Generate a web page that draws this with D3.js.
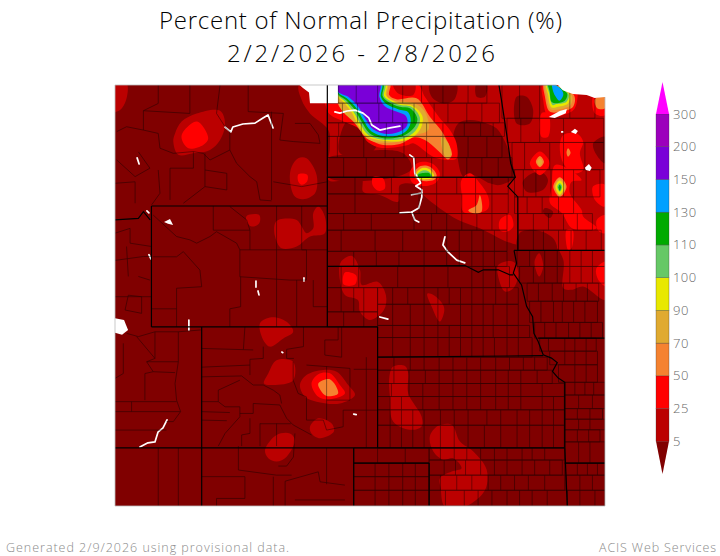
<!DOCTYPE html>
<html lang="en">
<head>
    <meta charset="UTF-8">
    <title>Percent of Normal Precipitation</title>
    <script src="https://d3js.org/d3.v7.min.js"></script>
    <style>
        html, body { margin: 0; background: #fff; }
        text { font-family: "Open Sans", "DejaVu Sans", sans-serif; font-weight: 300; }
    </style>
</head>
<body>
<script>
const titleLines = ["Percent of Normal Precipitation (%)", "2/2/2026 - 2/8/2026"];
const footerLeft = "Generated 2/9/2026 using provisional data.";
const footerRight = "ACIS Web Services";

// colour bar
const levels = [5, 25, 50, 70, 90, 100, 110, 130, 150, 200, 300];
const bandColors = ["#800000", "#bb0000", "#ff0000", "#f58230", "#e0aa30", "#e8e800", "#66c866", "#00aa00", "#00a0ff", "#7a00d8", "#9c00bc", "#ff00ff"];

// contour patches, painted in order: [percent of normal, [[lon, lat], ...]]
const contours = [
    // northern plains and upper midwest, 5-25 %
    [15, [[-105.14,49.05],[-105.07,48.5],[-104.74,48.06],[-104.01,47.51],[-103.95,46.96],[-104.01,45.86],[-102.69,45.91],[-102.62,45.47],[-101.96,45.36],[-101.23,45.14],[-101.16,45.69],[-100.5,45.69],[-100.23,45.36],[-99.57,44.92],[-98.84,44.54],[-97.98,44.26],[-97.05,43.87],[-96.47,43.71],[-95.72,43.66],[-95.06,43.71],[-94.66,43.22],[-94.66,42.28],[-94.33,42.23],[-93.87,42.34],[-92.9,41.9],[-92.9,49.05]]],
    // drier holes
    [0, [[-103.35,47.73],[-103.03,47.9],[-102.67,47.68],[-102.35,47.41],[-102.08,47.02],[-102.47,46.69],[-103.55,46.75]]],
    [0, [[-104.01,46.57],[-103.42,46.69],[-102.42,46.83],[-101.03,46.74],[-100.7,46.24],[-101.3,45.97],[-104.01,45.95]]],
    [0, [[-99.97,49.05],[-98.91,49.05],[-99.01,48.5],[-99.44,48.39],[-99.9,48.61]]],
    [0, [[-98.84,47.73],[-98.38,47.84],[-97.71,47.73],[-97.32,47.57],[-96.92,47.02],[-96.65,46.3],[-96.59,45.97],[-97.18,45.69],[-97.58,45.75],[-98.24,46.02],[-98.64,45.97],[-98.91,46.8],[-99.04,47.29]]],
    [0, [[-96.52,48.61],[-96.12,48.61],[-95.86,48.17],[-95.99,47.73],[-96.52,47.73]]],
    [0, [[-98.11,49.05],[-97.71,49.05],[-97.78,48.61],[-98.11,48.61]]],
    [0, [[-95.87,46.09],[-95.47,46.09],[-95.27,45.86],[-95.47,45.53],[-96.11,45.47],[-96.27,45.8]]],
    [0, [[-93.47,47.07],[-93,47.29],[-93,46.41],[-93.34,46.69]]],
    [0, [[-96.4,44.1],[-95.73,44.2],[-95.07,43.94],[-94.93,43.55],[-96.47,43.55]]],
    [0, [[-95.39,44.93],[-95.07,44.81],[-95.19,44.6],[-95.47,44.81]]],
    // western blobs
    [15, [[-112.6,49.05],[-112.04,49.05],[-112.06,48.5],[-112.3,48.17],[-112.6,48.12]]],
    [15, [[-109.85,47.79],[-109.25,48.06],[-108.32,48.15],[-108.12,47.73],[-108.32,47.18],[-108.72,46.85],[-109.38,46.74],[-109.98,46.69],[-110.18,47.13],[-110.11,47.4]]],
    [35, [[-109.23,47.79],[-108.79,47.24],[-108.99,47.02],[-109.58,46.91],[-109.85,47.24],[-109.78,47.46]]],
    [15, [[-105.21,46.58],[-104.88,46.58],[-104.48,46.03],[-104.54,45.42],[-105.01,45.22],[-105.34,45.31],[-105.54,45.86],[-105.47,46.3]]],
    [35, [[-105.2,46.05],[-104.85,46.03],[-104.85,45.82],[-105.07,45.7],[-105.2,45.8]]],
    [15, [[-107.26,44.67],[-106.76,44.7],[-106.76,44.43],[-107.06,44.32],[-107.26,44.48]]],
    [15, [[-106.13,44.43],[-105.94,44.56],[-105.27,44.54],[-105.07,44.32],[-104.88,44.1],[-104.61,44.26],[-104.61,44.76],[-104.41,44.98],[-104.15,44.65],[-104.15,44.1],[-104.74,43.99],[-105.27,43.66],[-105.87,43.6],[-106.13,43.99]]],
    [15, [[-106.73,41.12],[-106.27,41.32],[-105.67,41.17],[-105.41,40.84],[-105.8,40.62],[-106.33,40.35],[-106.6,40.57]]],
    [15, [[-106.07,39.9],[-105.41,39.85],[-105.41,39.24],[-106.2,39.08],[-106.57,39.13],[-106.4,39.46]]],
    [15, [[-105.14,39.08],[-104.88,39.41],[-104.21,39.58],[-103.68,39.52],[-103.22,39.08],[-102.95,38.75],[-103.55,38.47],[-104.48,38.53],[-104.94,38.69]]],
    [35, [[-104.68,39.13],[-104.41,39.44],[-103.95,39.47],[-103.55,39.08],[-103.35,38.8],[-103.95,38.61],[-104.41,38.69]]],
    [60, [[-104.41,39.13],[-103.95,39.27],[-103.62,38.8],[-104.08,38.72],[-104.32,38.91]]],
    [15, [[-104.74,37.7],[-104.41,37.98],[-103.88,37.81],[-103.79,37.54],[-104.34,37.32],[-104.68,37.48]]],
    [15, [[-106.53,36.93],[-106.07,37.43],[-105.54,37.48],[-105.34,37.26],[-105.67,36.71],[-106.07,36.55],[-106.4,36.66]]],
    // central plains
    [15, [[-103.51,43.15],[-103.07,43.35],[-102.75,42.88],[-102.68,42.39],[-102.04,42.49],[-101.72,42.06],[-101.8,41.56],[-102.36,41.23],[-102.75,41.5],[-102.83,41.89],[-103.35,42.06],[-103.55,42.55]]],
    [35, [[-103.35,42.8],[-102.9,42.7],[-102.95,42.4],[-103.4,42.4]]],
    [15, [[-100.07,42.1],[-99.83,42.06],[-99.44,41.73],[-99.4,41.51],[-99.57,41.18],[-99.9,41.68]]],
    [15, [[-101.58,39.36],[-101.43,39.69],[-100.96,39.71],[-100.83,39.47],[-100.83,38.81],[-100.3,38.04],[-100.3,37.71],[-100.76,37.6],[-101.43,37.87],[-101.56,38.7]]],
    [15, [[-99.97,37.38],[-99.64,37.73],[-99.1,37.77],[-98.77,37.21],[-98.24,36.88],[-97.71,36.28],[-97.78,35.6],[-98.57,35.06],[-99.37,35.06],[-99.54,35.67],[-99.57,36],[-99.1,36.22],[-98.71,36.33],[-99.04,36.66],[-99.44,36.61],[-99.83,36.88]]],
    [15, [[-97.25,43.05],[-96.65,43.16],[-96.45,42.78],[-96.65,42.28],[-96.98,42.17],[-97.25,42.67]]],
    [15, [[-95.79,43.22],[-95.62,43.44],[-95.46,43],[-95.62,42.67],[-95.79,43]]],
    // north dakota maximum
    [35, [[-104.02,48.1],[-103.35,47.78],[-102.83,47.58],[-102.43,47.11],[-101.88,46.92],[-100.84,47.02],[-100.63,47.07],[-99.84,46.63],[-99.24,46.52],[-98.91,46.57],[-98.91,47.07],[-99.17,47.51],[-99.57,47.9],[-99.9,48.28],[-100.17,48.61],[-100.5,49.05],[-104.01,49.05]]],
    [15, [[-101.43,49.05],[-100.57,49.05],[-100.63,48.67],[-101.23,48.72]]],
    [60, [[-101.56,49.05],[-101.59,48.67],[-101.3,48.53],[-100.5,48.56],[-99.97,47.95],[-99.44,47.4],[-99.09,46.69],[-99.24,46.54],[-99.64,46.83],[-100.17,47.18],[-100.57,47.27],[-101.16,47.05],[-101.83,47.02],[-102.36,47.2],[-102.89,47.73],[-103.42,48.12],[-103.62,48.37],[-103.62,49.05]]],
    [80, [[-101.67,49.05],[-101.67,48.61],[-101.36,48.48],[-100.57,48.39],[-100.17,48.12],[-100.03,47.51],[-100.5,47.35],[-101.16,47.13],[-101.83,47.09],[-102.42,47.2],[-102.95,47.73],[-103.48,48.17],[-103.62,48.5],[-103.62,49.05]]],
    [80, [[-99.5,47.29],[-99.24,47.07],[-99.15,46.65],[-99.31,46.61],[-99.5,46.96]]],
    [95, [[-101.7,49.05],[-101.72,48.67],[-101.49,48.5],[-101.1,48.37],[-100.63,48.3],[-100.26,47.95],[-100.37,47.51],[-100.83,47.2],[-101.63,47.14],[-102.49,47.31],[-102.82,47.68],[-103.08,48.09],[-103.39,48.42],[-103.62,48.61],[-103.62,49.05]]],
    [105, [[-101.76,49.05],[-101.79,48.64],[-101.56,48.48],[-101.14,48.34],[-100.7,48.28],[-100.37,47.93],[-100.47,47.57],[-100.9,47.27],[-101.63,47.18],[-102.42,47.35],[-102.75,47.73],[-103.02,48.12],[-103.35,48.46],[-103.62,48.66],[-103.62,49.05]]],
    [120, [[-101.83,49.05],[-101.85,48.64],[-101.63,48.45],[-101.16,48.28],[-100.76,48.23],[-100.47,47.9],[-100.57,47.62],[-100.96,47.35],[-101.63,47.23],[-102.36,47.4],[-102.69,47.79],[-102.95,48.17],[-103.31,48.5],[-103.62,48.7],[-103.62,49.05]]],
    [140, [[-101.89,49.05],[-101.92,48.61],[-101.7,48.37],[-101.23,48.2],[-100.83,48.1],[-100.74,47.73],[-101,47.42],[-101.63,47.29],[-102.29,47.46],[-102.62,47.84],[-102.89,48.23],[-103.28,48.56],[-103.62,48.75],[-103.62,49.05]]],
    [175, [[-101.96,49.05],[-101.98,48.61],[-101.76,48.3],[-101.3,48.12],[-100.92,47.97],[-100.87,47.68],[-101.1,47.49],[-101.63,47.38],[-102.22,47.53],[-102.55,47.9],[-102.82,48.28],[-103.22,48.61],[-103.62,48.78],[-103.62,49.05]]],
    // south dakota
    [35, [[-100.76,46.13],[-100.43,46.43],[-99.9,46.41],[-99.57,46.08],[-99.73,45.77],[-100.3,45.66],[-100.7,45.8]]],
    [60, [[-100.6,46.08],[-100.34,46.32],[-99.97,46.3],[-99.7,46.02],[-99.81,45.86],[-100.5,45.88]]],
    [95, [[-100.53,46.06],[-100.3,46.25],[-100,46.22],[-99.8,45.99],[-99.94,45.9],[-100.47,45.92]]],
    [105, [[-100.47,46.04],[-100.26,46.17],[-100.03,46.15],[-99.88,45.97],[-100.43,45.95]]],
    [120, [[-100.43,46.04],[-99.99,46.08],[-99.94,45.96],[-100.43,45.95]]],
    [35, [[-102.22,45.97],[-101.83,45.91],[-101.76,45.58],[-102.02,45.5],[-102.25,45.69]]],
    [35, [[-98.71,45.86],[-98.38,46.08],[-97.98,45.75],[-97.65,45.31],[-97.65,44.92],[-98.11,44.76],[-98.64,44.81],[-98.71,45.42]]],
    [60, [[-98.44,44.85],[-98.11,45.03],[-97.98,45.36],[-97.91,44.81],[-98.24,44.76]]],
    [35, [[-97.18,44.54],[-96.78,44.7],[-96.65,44.32],[-96.91,44.15],[-97.18,44.2]]],
    // minnesota
    [35, [[-95,46.35],[-94.6,46.29],[-93.93,45.86],[-94.33,45.8],[-94.4,45.43],[-93.93,44.87],[-93.87,44.65],[-93.33,44.27],[-93.87,44.2],[-94.33,44.27],[-94.72,44.77],[-95.19,45.1],[-95.12,45.64]]],
    [35, [[-94.66,47.35],[-94.13,47.4],[-93.87,47.13],[-94,46.74],[-93.87,46.19],[-94.27,46.08],[-94.66,46.41],[-94.8,46.96]]],
    [60, [[-94.47,46.91],[-94.37,46.76],[-94.47,46.63],[-94.53,46.76]]],
    [35, [[-93.48,45.64],[-93,45.7],[-93,44.98],[-93.4,45.2]]],
    [35, [[-93.33,44.54],[-93,44.7],[-93,44.1],[-93.28,44.2]]],
    [35, [[-93.47,48.61],[-93,48.67],[-93,48],[-93.4,48.06]]],
    [60, [[-93.4,48.53],[-93,48.61],[-93,48.23],[-93.31,48.23]]],
    [35, [[-95.53,48.06],[-95.26,48.06],[-95.26,47.29],[-95.53,47.29]]],
    [35, [[-95.46,49.05],[-94.2,49.05],[-94.2,48.23],[-94.66,48.01],[-95.26,47.95],[-95.46,48.5]]],
    [60, [[-95.42,49.05],[-94.24,48.67],[-94.27,48.28],[-94.73,48.12],[-95.2,48.12],[-95.39,48.61]]],
    [80, [[-95.37,49.05],[-94.33,48.67],[-94.37,48.34],[-94.8,48.2],[-95.17,48.2],[-95.33,48.61]]],
    [95, [[-95.33,49.05],[-94.4,48.67],[-94.47,48.39],[-94.86,48.28],[-95.13,48.26],[-95.26,48.67]]],
    [105, [[-95.3,49.05],[-94.45,48.7],[-94.53,48.45],[-94.93,48.37],[-95.09,48.34],[-95.22,48.72]]],
    [120, [[-95.26,49.05],[-94.51,48.72],[-94.6,48.48],[-94.93,48.4],[-95.13,48.45],[-95.2,48.78]]],
    [140, [[-95.1,49.05],[-94.73,48.84],[-94.66,48.67],[-94.82,48.48],[-94.96,48.61],[-95.06,48.78]]],
    [35, [[-95.99,46.41],[-95.59,46.8],[-95.2,46.41],[-95.59,46.02]]],
    [60, [[-95.75,46.46],[-95.59,46.65],[-95.43,46.46],[-95.59,46.28]]],
    [80, [[-95.7,46.46],[-95.59,46.57],[-95.49,46.46],[-95.59,46.32]]],
    [60, [[-95.06,45.64],[-94.8,45.95],[-94.53,45.64],[-94.8,45.29]]],
    [80, [[-95,45.64],[-94.8,45.9],[-94.58,45.64],[-94.8,45.33]]],
    [95, [[-94.97,45.64],[-94.8,45.84],[-94.63,45.64],[-94.8,45.37]]],
    [105, [[-94.9,45.64],[-94.8,45.75],[-94.7,45.64],[-94.8,45.47]]],
    [120, [[-94.85,45.62],[-94.8,45.7],[-94.75,45.62],[-94.8,45.5]]],
    // iowa
    [35, [[-94.53,44.21],[-94.29,44.21],[-94.33,43.6],[-94.46,43.53]]],
    [35, [[-93.34,42.94],[-92.94,43.16],[-92.94,42.34],[-93.27,42.56]]]
];

// areas without data
const missingAreas = [
    [[-105.22,49.05],[-105.02,48.9],[-104.78,48.75],[-104.74,48.4],[-103.63,48.4],[-103.63,49.05]],
    [[-94.93,49.05],[-94.68,48.83],[-94.28,48.7],[-93.73,48.67],[-93.41,48.57],[-93,48.6],[-92.9,49.05]],
    [[-112.6,41.3],[-112.14,41.23],[-111.98,40.9],[-112.22,40.74],[-112.6,40.83]],
    [[-110.55,44.47],[-110.31,44.57],[-110.19,44.37],[-110.39,44.41]],
    [[-95.24,47.94],[-94.8,48.14],[-94.52,48.21],[-94.56,48.07],[-95,47.91]],
    [[-94.36,47.45],[-94.2,47.55],[-94.08,47.48],[-94.16,47.38]],
    [[-93.8,46.26],[-93.64,46.39],[-93.53,46.26],[-93.6,46.16],[-93.76,46.19]]
];
const reservoirs = [
    [[-103.75,48.11],[-103.55,48.07],[-103.27,48.14],[-102.95,48.17],[-102.63,48.07],[-102.4,47.91],[-102.28,47.68],[-101.96,47.51],[-101.56,47.58],[-101.16,47.64]],
    [[-108.12,47.61],[-107.89,47.45],[-107.81,47.61],[-107.41,47.71],[-106.93,47.74],[-106.61,47.91],[-106.41,48.01],[-106.33,47.84],[-106.21,47.58]],
    [[-100.77,46.69],[-100.61,46.59],[-100.57,46.09],[-100.33,45.76],[-100.53,45.66],[-100.29,45.53],[-100.29,45.3],[-100.41,44.93],[-100.69,44.8],[-101.16,44.77]],
    [[-100.69,44.8],[-100.57,44.54],[-100.41,44.47]],
    [[-100.7,45.37],[-100.29,45.43]],
    [[-99.37,43.98],[-99.45,43.71],[-99.25,43.48],[-98.9,43.21],[-98.58,43.12]],
    [[-110.43,37.93],[-110.59,37.66],[-110.79,37.52],[-110.91,37.2],[-111.19,37.17],[-111.51,37.03]],
    [[-111.62,46.59],[-111.54,46.39]],
    [[-111.23,44.84],[-111.15,44.77]],
    [[-111.15,43.39],[-111.07,43.25]],
    [[-101.96,41.33],[-101.64,41.26]],
    [[-109.56,41.23],[-109.56,40.9]],
    [[-106.89,42.52],[-106.89,42.32]],
    [[-106.81,42.19],[-106.77,42.06]],
    [[-104.98,42.62],[-104.98,42.52]],
    [[-105.86,40.17],[-105.82,40.15]],
    [[-103,38.12],[-102.9,38.1]],
    [[-94.72,47.45],[-94.68,47.45]]
];

// state boundaries
const stateLines = [
    [[-111.05,45],[-104.05,45]],
    [[-111.05,45],[-111.05,41]],
    [[-104.05,49],[-104.05,41]],
    [[-111.05,41],[-102.05,41]],
    [[-109.05,41],[-109.05,35]],
    [[-112.5,44.54],[-111.57,44.59],[-111.37,44.81],[-111.1,44.54]],
    [[-102.05,41],[-102.05,37]],
    [[-102.05,40],[-95.46,40.05]],
    [[-112.5,37],[-94.62,37]],
    [[-103,37],[-103,35]],
    [[-103,36.5],[-100,36.5]],
    [[-100,36.5],[-100,35]],
    [[-104.05,45.95],[-96.55,45.95]],
    [[-104.05,43],[-98.57,43.03],[-98.04,42.81],[-97.84,42.89],[-97.25,42.89],[-96.78,42.72],[-96.65,42.72]],
    [[-97.22,49],[-97.12,48.5],[-96.9,47.3],[-96.75,46.4],[-96.57,45.95],[-96.87,45.65],[-96.47,45.3],[-96.47,43.53]],
    [[-96.62,43.53],[-93,43.53]],
    [[-96.62,43.53],[-96.52,43.11],[-96.65,42.78],[-96.32,42.39],[-96.12,41.68],[-95.88,41.34],[-95.83,40.79],[-95.66,40.52],[-95.46,40.08],[-95.13,39.97],[-94.9,39.82],[-95.09,39.53],[-94.86,39.31],[-94.6,39.17],[-94.6,37]],
    [[-95.66,40.63],[-93,40.63]],
    [[-94.6,36.5],[-93,36.5]],
    [[-94.6,37],[-94.5,35.08]]
];

// county grid sections: [north lat, south lat, [lon breaks]]
const countySections = [
    [49,48.4,[-104.05,-103.6,-102.9,-102.05,-101.05,-100.3,-99.45,-98.45,-97.7]],
    [48.4,47.75,[-104.05,-103.45,-102.85,-102,-101.45,-100.6,-99.8,-99.25,-98.5,-97.9,-97.2]],
    [47.75,47.3,[-104.05,-103.6,-102.7,-101.7,-101.05,-100.1,-99.45,-98.6,-97.95,-97.45,-97]],
    [47.3,46.6,[-104.05,-103.65,-102.6,-101.75,-101,-100.1,-99.45,-98.45,-97.7,-97.1]],
    [46.6,45.95,[-104.05,-103.4,-102.5,-101.4,-100.55,-99.9,-99.45,-98.5,-97.9,-97.25,-96.7]],
    [45.95,45.4,[-104.05,-102.95,-101.5,-100.3,-99.7,-98.9,-98.15,-97.5,-96.85]],
    [45.4,44.75,[-104.05,-102.95,-101.2,-100.4,-99.7,-98.7,-98.15,-97.5,-96.85]],
    [44.75,44.2,[-104.05,-103.4,-102.3,-100.6,-99.9,-99.3,-98.7,-98.1,-97.5,-96.9]],
    [44.2,43.5,[-104.05,-103.5,-102.15,-101.05,-100.2,-99.3,-98.8,-98.3,-97.85,-97.4,-96.9]],
    [43.5,43,[-104.05,-103,-102.1,-101.2,-100.2,-99.3,-98.8,-98.3,-97.85,-97.4,-96.9]],
    [43,42.3,[-104.05,-103.5,-102.8,-101.25,-100.2,-99.25,-98.3,-97.85,-97.35,-96.8]],
    [42.3,41.75,[-102.05,-101.45,-100.85,-100.2,-99.65,-99.2,-98.75,-98.3,-97.85,-97.35,-96.9,-96.45]],
    [41.75,41.05,[-102.05,-101.45,-100.75,-100.2,-99.65,-98.75,-98.3,-97.85,-97.45,-96.9,-96.45]],
    [41.05,40.65,[-102.05,-101.45,-100.75,-100.2,-99.65,-99.2,-98.75,-98.3,-97.85,-97.45,-96.9,-96.45,-96]],
    [40.65,40,[-102.05,-101.45,-100.75,-100.2,-99.65,-99.2,-98.75,-98.3,-97.85,-97.4,-96.9,-96.45,-95.9]],
    [42.3,41.5,[-104.05,-103.5,-103,-102.6,-102.05]],
    [41.5,41,[-104.05,-103.4,-102.6,-102.05]],
    [40,39.57,[-102.05,-101.4,-100.75,-100.2,-99.6,-99.05,-98.5,-97.95,-97.35,-96.8,-96.25,-95.8,-95.3]],
    [39.57,39.13,[-102.05,-101.4,-100.8,-100.15,-99.6,-99.05,-98.5,-97.95,-97.35,-96.85,-96.35,-95.7,-95.1]],
    [39.13,38.7,[-102.05,-101.5,-100.8,-100.25,-99.6,-99.05,-98.5,-97.95,-97.35,-96.85,-96.35,-95.5,-94.62]],
    [38.7,38.26,[-102.05,-101.55,-101.1,-100.25,-99.6,-99.05,-98.5,-97.95,-97.35,-96.85,-96.35,-95.5,-95.05,-94.62]],
    [38.26,37.75,[-102.05,-101.55,-101.1,-100.65,-100.2,-99.55,-99,-98.45,-97.7,-97.15,-96.5,-96,-95.5,-95.05,-94.62]],
    [37.75,37,[-102.05,-101.55,-101.1,-100.65,-100.2,-99.55,-99,-98.45,-97.8,-97.15,-96.5,-96,-95.5,-95.05,-94.62]],
    [43.53,43,[-96.5,-96,-95.4,-94.9,-94.4,-93.95,-93.5,-93]],
    [43,42.45,[-96.4,-95.85,-95.4,-94.9,-94.4,-93.95,-93.5,-93]],
    [42.45,41.85,[-96.1,-95.65,-95.1,-94.65,-94.15,-93.7,-93.25]],
    [41.85,41.15,[-96,-95.55,-95.05,-94.7,-94.25,-93.8,-93.3]],
    [41.15,40.63,[-95.8,-95.4,-94.95,-94.45,-94,-93.55,-93.1]],
    [44.2,43.53,[-96.45,-95.85,-95.45,-94.85,-94.35,-93.75,-93.15]],
    [44.75,44.2,[-96.45,-95.85,-95.25,-94.65,-94.1,-93.5]],
    [45.3,44.75,[-96.6,-96.1,-95.5,-94.85,-94.25]],
    [46.2,45.3,[-96.6,-96.25,-95.75,-95.15,-94.65,-94.25,-93.75,-93.2]],
    [47.1,46.2,[-96.7,-96.2,-95.2,-94.65,-93.8,-93.05]],
    [47.9,47.1,[-96.9,-96.35,-95.6,-94.65,-93.05]],
    [49,47.9,[-97.1,-96.4,-95.6,-94.4,-93.4]],
    [40.63,40.2,[-95.6,-95.25,-94.6,-94.2,-93.75,-93.35]],
    [40.2,39.75,[-95.2,-94.6,-94.2,-93.75,-93.3]],
    [39.75,39.17,[-94.85,-94.2,-93.75,-93.3]],
    [39.17,38.75,[-94.6,-94.2,-93.8,-93.45,-93]],
    [38.75,38.3,[-94.6,-94.05,-93.5,-93]],
    [38.3,37.95,[-94.6,-94.1,-93.6,-93.1]],
    [37.95,37.6,[-94.6,-94.05,-93.6,-93]],
    [37.6,37.2,[-94.6,-94.1,-93.65,-93.2]],
    [37.2,36.5,[-94.6,-94.05,-93.6,-93]],
    [36.5,36.1,[-94.6,-94.1,-93.7,-93.3,-93]],
    [36.1,35.6,[-94.55,-94,-93.5,-93]],
    [35.6,35.08,[-94.5,-94,-93.4,-93]],
    [37,36.5,[-103,-102.05,-100.95,-100]],
    [36.5,36.05,[-103,-102.15,-101.6,-101.05,-100.55,-100]],
    [36.05,35.6,[-103,-102.15,-101.6,-101.05,-100.55,-100]],
    [35.6,35.08,[-103,-102.15,-101.6,-101.05,-100.55,-100]],
    [37,36.6,[-100,-99.55,-99,-98.5,-97.95,-97.4,-96.9,-96.3,-95.9,-95.4,-94.6]],
    [36.6,36.1,[-100,-99.4,-98.95,-98.55,-97.95,-97.4,-96.9,-96.3,-95.8,-95.2,-94.7]],
    [36.1,35.6,[-100,-99.55,-98.9,-98.3,-97.65,-97.15,-96.6,-96.05,-95.4,-94.6]],
    [35.6,35.08,[-100,-99.35,-98.6,-98.05,-97.5,-96.9,-96.4,-95.9,-95.3,-94.5]]
];

// irregular county lines in the mountain states
const countyLines = [
    [[-112.5,42],[-111.05,42]],
    [[-108.59,45],[-108.59,44.2],[-107.13,44.2],[-107.13,43.55]],
    [[-110.98,44.7],[-110.05,43.99],[-109.52,43.88],[-109.25,43.77],[-108.72,43.99],[-108.46,44.15],[-107.66,43.77],[-107.53,43.55],[-107.53,42.66]],
    [[-107.53,43.55],[-104.05,43.55]],
    [[-110.98,43.32],[-110.05,43.32],[-109.78,43.49],[-109.12,42.88],[-109.05,42.33],[-110.05,42.28],[-110.05,41]],
    [[-107.93,44.98],[-107.26,44.54],[-107.13,44.2]],
    [[-106.07,45],[-106.07,42.77]],
    [[-105.07,45],[-105.07,43.55],[-104.88,43.55],[-104.88,42.55]],
    [[-107.53,42.66],[-105.54,42.55],[-104.88,42.55]],
    [[-111.05,41.6],[-110.05,41.6]],
    [[-107.93,41],[-107.93,41.6],[-107.5,41.67],[-107.5,42.66]],
    [[-106.07,42.77],[-106.07,41]],
    [[-105.27,42.55],[-105.27,41]],
    [[-104.61,42.55],[-104.61,41.67],[-104.05,41.67]],
    [[-110.78,49],[-110.78,48.39],[-111.37,48.15],[-111.37,47.51],[-112.04,47.62],[-112.43,47.46]],
    [[-109.52,49],[-109.52,48.06],[-111.37,48.15]],
    [[-108.32,49],[-108.46,48.06],[-108.12,47.62],[-107.93,47.46],[-107.93,46.85],[-107.66,46.41],[-107.13,45.97],[-106.86,45.8],[-106.73,45.2],[-106.27,45.17]],
    [[-107.2,49],[-107.2,48.12],[-105.8,48.06],[-105.94,47.18],[-105.41,47.13]],
    [[-111.37,47.51],[-110.78,47.4],[-110.71,46.91],[-110.18,46.74],[-109.38,46.8],[-108.99,46.74],[-108.72,46.52],[-107.93,46.85]],
    [[-109.38,46.8],[-109.38,46.25],[-110.31,46.25],[-110.31,45.2]],
    [[-108.92,46.74],[-108.92,45.64],[-108.05,45.53],[-108.05,46.08],[-108.92,46.19]],
    [[-108.92,45.64],[-109.78,45.09]],
    [[-111.57,46.79],[-111.11,46.25],[-111.7,45.97],[-112.43,46.52]],
    [[-112.5,45.75],[-111.7,45.8],[-111.7,45.09]],
    [[-110.78,46.19],[-110.71,45.42],[-111.04,45.04]],
    [[-106.27,48.12],[-106.27,45.2]],
    [[-105.41,47.13],[-104.34,47.07]],
    [[-106.2,45.8],[-105.07,45.64],[-104.05,45.8]],
    [[-105.34,47.73],[-104.74,47.73],[-104.41,47.35],[-104.34,47.07]],
    [[-112.5,44.1],[-111.9,44.26],[-111.9,43.77],[-111.04,43.66]],
    [[-112.5,43.2],[-111.37,43.33],[-111.04,43.33]],
    [[-112.04,43.66],[-111.97,42.67]],
    [[-111.57,42.67],[-111.11,42.55]],
    [[-112.1,41.56],[-111.44,41.45],[-111.44,42],[-111.97,42.05],[-112.1,41.56]],
    [[-112.04,40.79],[-111.57,40.68],[-110.91,40.84],[-109.98,40.84],[-109.09,40.9]],
    [[-110.91,40.84],[-110.91,39.96],[-111.24,39.85],[-110.98,39.52],[-111.31,39.46],[-111.31,38.58]],
    [[-109.98,40.84],[-109.98,39.85],[-111.24,39.85]],
    [[-109.98,39.85],[-110.11,39.13],[-110.05,38.58],[-109.89,38.2],[-110.18,37.87],[-110.45,37.87]],
    [[-110.98,39.52],[-110.11,39.49]],
    [[-112.5,38.53],[-110.05,38.53]],
    [[-111.84,38.53],[-111.84,38.2]],
    [[-112.5,38.2],[-109.9,38.2]],
    [[-112.5,37.59],[-110.45,37.59]],
    [[-111.64,40.68],[-110.91,39.96]],
    [[-112.17,40.46],[-112.17,39.46],[-112.5,39.3]],
    [[-109.05,40.29],[-107,40.24]],
    [[-107.33,41],[-107.39,40.26]],
    [[-105,41],[-105,40.35],[-105.67,40.26],[-105.67,39.96],[-105.38,39.96]],
    [[-103.62,41],[-103.62,40.57],[-104.15,40.57],[-104.15,40.07],[-103.48,40],[-103.48,41]],
    [[-106.6,40.35],[-106.6,39.96],[-107.13,39.93],[-107.13,39.41]],
    [[-109.05,39.67],[-107.13,39.74]],
    [[-109.05,39.35],[-107.46,39.38],[-107,39.08],[-106.6,39.08],[-106.2,38.91],[-105.94,38.75],[-105.87,38.47]],
    [[-108.39,38.53],[-108.39,38.91],[-107.53,39.24]],
    [[-109.05,38.53],[-108.39,38.53],[-108.12,38.36],[-107.53,38.36],[-107.53,38.03],[-108.12,37.48],[-108.39,37.06]],
    [[-109.05,38.2],[-107.93,38.17]],
    [[-109.05,37.92],[-108.05,37.9]],
    [[-107.53,38.14],[-107,38.14],[-107,38.47],[-105.94,38.42],[-105.67,37.98],[-105.41,37.76],[-104.68,37.43]],
    [[-107.13,37.98],[-107.13,37.48],[-107.46,37.43],[-107.46,37.06]],
    [[-106.73,37.81],[-106.73,37.06]],
    [[-106.07,37.81],[-106.07,37.06]],
    [[-106.73,37.8],[-105.5,37.8]],
    [[-105.41,39.85],[-105.41,39.24],[-105.21,38.8],[-104.88,38.69],[-104.88,37.92],[-104.21,37.92],[-104.08,37.59],[-103.42,37.7]],
    [[-104.88,39.74],[-103.15,39.63]],
    [[-103.15,39.63],[-103.15,38.58],[-104.08,38.58],[-104.08,37.92]],
    [[-104.08,39.7],[-104.08,38.58]],
    [[-103.42,38.25],[-103.42,37.7]],
    [[-102.5,40],[-102.5,37]],
    [[-103.42,38.25],[-102.05,38.25]],
    [[-103,39.6],[-102.05,39.6]],
    [[-107.59,37.06],[-107.59,36.27],[-106.07,36.1],[-105.47,36.1]],
    [[-105.34,37.48],[-105.4,36.7],[-105.67,36.4],[-106,36.4]],
    [[-109.05,36.05],[-107.33,36.05],[-107.33,35.33],[-108.46,35.33],[-108.46,35.08]],
    [[-106.2,36.05],[-106.2,35.08]],
    [[-105.73,35.9],[-105.73,35.08]],
    [[-105.73,35.9],[-104.41,36.21],[-104.34,35.88],[-103.35,35.77]],
    [[-104.08,37],[-104.08,35.8]],
    [[-105.34,35.28],[-103.35,35.28]],
    [[-110.78,37],[-110.78,35.08]],
    [[-109.98,37],[-109.98,35.08]]
];

const mapLeft = 115, mapRight = 605, mapTop = 85, mapBottom = 506;
const x = d3.scaleLinear().domain([-112.5, -93]).range([mapLeft, mapRight]);
const y = d3.scaleLinear().domain([49, 35.08]).range([mapTop, mapBottom]);
const color = d3.scaleThreshold().domain(levels).range(bandColors);

const polyline = d3.line().x(d => x(d[0])).y(d => y(d[1]));
const blob = d3.line().x(d => x(d[0])).y(d => y(d[1])).curve(d3.curveCatmullRomClosed.alpha(0.5));

const svg = d3.select("body").append("svg")
    .attr("width", 720)
    .attr("height", 556)
    .style("display", "block");

svg.append("clipPath").attr("id", "map-clip").append("rect")
    .attr("x", mapLeft).attr("y", mapTop)
    .attr("width", mapRight - mapLeft).attr("height", mapBottom - mapTop);

const map = svg.append("g").attr("clip-path", "url(#map-clip)");

map.append("rect")
    .attr("x", mapLeft).attr("y", mapTop)
    .attr("width", mapRight - mapLeft).attr("height", mapBottom - mapTop)
    .attr("fill", color(0));

map.append("g").selectAll("path")
    .data(contours)
    .join("path")
    .attr("d", d => blob(d[1]))
    .attr("fill", d => color(d[0]));

map.append("g").selectAll("path")
    .data(reservoirs)
    .join("path")
    .attr("d", polyline)
    .attr("fill", "none")
    .attr("stroke", "#fff")
    .attr("stroke-width", 1.7)
    .attr("stroke-linejoin", "round")
    .attr("stroke-linecap", "round");

// turn the county sections into line segments
const sectionLines = countySections.flatMap(([north, south, lons]) => [
    [[lons[0], north], [lons[lons.length - 1], north]],
    [[lons[0], south], [lons[lons.length - 1], south]],
    ...lons.map(lon => [[lon, north], [lon, south]])
]);

// opacity on the group so shared edges do not get darker
map.append("g")
    .attr("opacity", 0.6)
    .selectAll("path")
    .data(sectionLines.concat(countyLines))
    .join("path")
    .attr("d", polyline)
    .attr("fill", "none")
    .attr("stroke", "#000")
    .attr("stroke-width", 0.65);

map.append("g").selectAll("path")
    .data(missingAreas)
    .join("path")
    .attr("d", d => polyline(d) + "Z")
    .attr("fill", "#fff");

map.append("g").selectAll("path")
    .data(stateLines)
    .join("path")
    .attr("d", polyline)
    .attr("fill", "none")
    .attr("stroke", "#000")
    .attr("stroke-width", 1.2);

// thin frame, left open where the mask reaches the top right corner
svg.append("path")
    .attr("d", `M${x(-94.93)},${mapTop} L${mapLeft},${mapTop} L${mapLeft},${mapBottom} L${mapRight},${mapBottom} L${mapRight},${y(48.6)}`)
    .attr("fill", "none")
    .attr("stroke", "#bbb")
    .attr("stroke-width", 0.8);

// colour bar
const barLeft = 656, barRight = 669, barMid = (barLeft + barRight) / 2;
const barY = d3.scalePoint().domain(levels).range([441.3, 114]);
const bar = svg.append("g");

bar.selectAll("rect")
    .data(d3.pairs(levels))
    .join("rect")
    .attr("x", barLeft)
    .attr("y", d => barY(d[1]))
    .attr("width", barRight - barLeft)
    .attr("height", d => barY(d[0]) - barY(d[1]))
    .attr("fill", d => color(d[0]))
    .attr("stroke", "#333")
    .attr("stroke-opacity", 0.6)
    .attr("stroke-width", 0.5);

bar.append("path")
    .attr("d", `M${barLeft},${barY(5)} L${barRight},${barY(5)} L${barMid},474 Z`)
    .attr("fill", color(0));
bar.append("path")
    .attr("d", `M${barLeft},${barY(300)} L${barRight},${barY(300)} L${barMid},82 Z`)
    .attr("fill", color(300));

bar.selectAll("text")
    .data(levels)
    .join("text")
    .attr("x", 673)
    .attr("y", d => barY(d) + 4.5)
    .attr("font-size", 13)
    .attr("fill", "#666")
    .attr("textLength", d => String(d).length * 7.7)
    .text(d => d);

// titles
svg.append("text")
    .attr("x", 159).attr("y", 29)
    .attr("font-size", 24)
    .attr("fill", "#000")
    .attr("textLength", 403)
    .text(titleLines[0]);
svg.append("text")
    .attr("x", 227).attr("y", 62)
    .attr("font-size", 24)
    .attr("fill", "#000")
    .attr("textLength", 268)
    .text(titleLines[1]);

svg.append("text")
    .attr("x", 6).attr("y", 552)
    .attr("font-size", 12.5)
    .attr("fill", "#8a8a8a")
    .attr("textLength", 283)
    .text(footerLeft);
svg.append("text")
    .attr("x", 599).attr("y", 552)
    .attr("font-size", 12.5)
    .attr("fill", "#8a8a8a")
    .attr("textLength", 117)
    .text(footerRight);
</script>
</body>
</html>
